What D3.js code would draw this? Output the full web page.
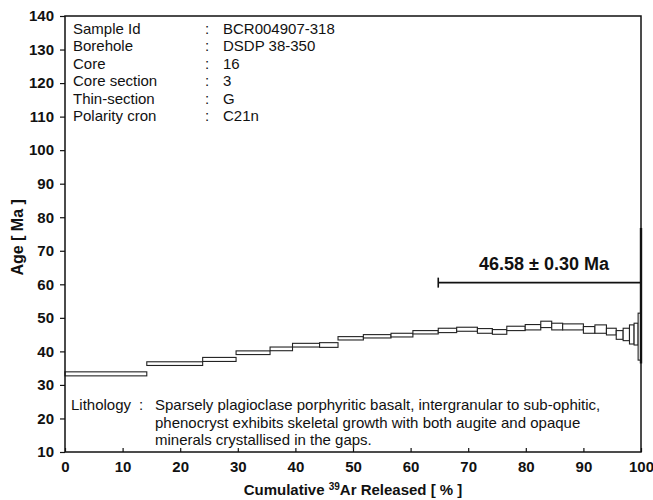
<!DOCTYPE html>
<html>
<head>
<meta charset="utf-8">
<script src="https://cdn.jsdelivr.net/npm/d3@7"></script>
<style>
  body { margin: 0; background: #fff; }
  svg text { font-family: "Liberation Sans", Arial, sans-serif; fill: #111; }
</style>
</head>
<body>
<div id="chart"></div>
<script>
// step spectrum: start of each step (cumulative % 39Ar), apparent age, 1 sigma
var stepStart = [0, 14.2, 23.9, 29.7, 35.6, 39.5, 44.2, 47.4, 51.8, 56.6, 60.4, 64.8, 68.0, 71.6,
  74.2, 76.7, 79.9, 82.6, 84.5, 86.4, 90.0, 92.0, 94.0, 95.7, 96.9, 98.0, 98.8, 99.5];
var stepAge = [33.3, 36.35, 37.6, 39.6, 40.75, 41.85, 41.9, 43.9, 44.5, 44.85, 45.7, 46.25, 46.6, 46.1,
  45.8, 46.85, 47.2, 48.05, 47.4, 47.3, 46.4, 46.65, 45.9, 44.9, 45.05, 45.05, 45.15, 44.4];
var stepErr = [0.6, 0.55, 0.6, 0.55, 0.55, 0.55, 0.7, 0.5, 0.5, 0.55, 0.5, 0.65, 0.6, 0.7,
  0.7, 0.65, 0.8, 0.95, 1.0, 0.9, 1.0, 1.25, 1.0, 1.3, 1.85, 2.85, 3.25, 7.0];

var xTicks = [0, 10, 20, 30, 40, 50, 60, 70, 80, 90, 100];
var yTicks = [10, 20, 30, 40, 50, 60, 70, 80, 90, 100, 110, 120, 130, 140];

var plateauFrom = 64.8, plateauTo = 100, plateauBarLevel = 60.5;
var plateauLabel = "46.58 ± 0.30 Ma";

var infoLabels = ["Sample Id", "Borehole", "Core", "Core section", "Thin-section", "Polarity cron"];
var infoValues = ["BCR004907-318", "DSDP 38-350", "16", "3", "G", "C21n"];
var lithology = [
  "Sparsely plagioclase porphyritic basalt, intergranular to sub-ophitic,",
  "phenocryst exhibits skeletal growth with both augite and opaque",
  "minerals crystallised in the gaps."
];

var width = 653, height = 500;
var margin = {top: 16, right: 12, bottom: 48, left: 65};

var svg = d3.select("#chart").append("svg")
    .attr("width", width)
    .attr("height", height);

var x = d3.scaleLinear().domain([0, 100]).range([margin.left, width - margin.right]);
var y = d3.scaleLinear().domain([10, 140]).range([height - margin.bottom, margin.top]);

// steps
var steps = stepStart.map(function(s, i) {
  return {x0: s, x1: i < stepStart.length - 1 ? stepStart[i + 1] : 100, age: stepAge[i], err: stepErr[i]};
});

svg.append("g").selectAll("rect")
    .data(steps)
  .enter().append("rect")
    .attr("x", function(d) { return x(d.x0); })
    .attr("width", function(d) { return x(d.x1) - x(d.x0); })
    .attr("y", function(d) { return y(d.age + d.err); })
    .attr("height", function(d) { return y(d.age - d.err) - y(d.age + d.err); })
    .attr("fill", "#fff")
    .attr("stroke", "#222")
    .attr("stroke-width", 1.1);

// frame
svg.append("rect")
    .attr("x", x(0)).attr("y", y(140))
    .attr("width", x(100) - x(0)).attr("height", y(10) - y(140))
    .attr("fill", "none").attr("stroke", "#111").attr("stroke-width", 1.5);

// axes
var yAxis = svg.append("g")
    .attr("transform", "translate(" + x(0) + ",0)")
    .call(d3.axisLeft(y).tickValues(yTicks).tickSize(5).tickPadding(6));
var xAxis = svg.append("g")
    .attr("transform", "translate(0," + y(10) + ")")
    .call(d3.axisBottom(x).tickValues(xTicks).tickSize(-4).tickPadding(9));
[xAxis, yAxis].forEach(function(a) {
  a.select(".domain").remove();
  a.selectAll("line").attr("stroke", "#111").attr("stroke-width", 1.2);
  a.selectAll("text").style("font-size", "15px").style("font-weight", "bold")
    .style("font-family", "Liberation Sans, Arial, sans-serif").attr("fill", "#111");
});

svg.append("text")
    .attr("transform", "translate(23," + (y(74)) + ")rotate(-90)")
    .attr("text-anchor", "middle")
    .style("font-size", "16px").style("font-weight", "bold")
    .text("Age [ Ma ]");

var xl = svg.append("text")
    .attr("x", (x(0) + x(100)) / 2)
    .attr("y", 495)
    .attr("text-anchor", "middle")
    .style("font-size", "15px").style("font-weight", "bold");
xl.append("tspan").text("Cumulative ");
xl.append("tspan").attr("dy", -5).style("font-size", "10px").text("39");
xl.append("tspan").attr("dy", 5).text("Ar Released [ % ]");

// plateau bar
var py = y(plateauBarLevel);
svg.append("line")
    .attr("x1", x(plateauFrom)).attr("x2", x(plateauTo))
    .attr("y1", py).attr("y2", py)
    .attr("stroke", "#111").attr("stroke-width", 1.6);
svg.append("line")
    .attr("x1", x(plateauFrom)).attr("x2", x(plateauFrom))
    .attr("y1", py - 5).attr("y2", py + 5)
    .attr("stroke", "#111").attr("stroke-width", 1.6);
svg.append("line")
    .attr("x1", x(plateauTo)).attr("x2", x(plateauTo))
    .attr("y1", y(76.8)).attr("y2", y(36.4))
    .attr("stroke", "#111").attr("stroke-width", 2.4);
svg.append("text")
    .attr("x", 544).attr("y", py - 13)
    .attr("text-anchor", "middle")
    .style("font-size", "18px").style("font-weight", "bold")
    .text(plateauLabel);

// info block
var info = svg.append("g").style("font-size", "15px");
infoLabels.forEach(function(l, i) {
  var ty = 34 + i * 17.4;
  info.append("text").attr("x", 73).attr("y", ty).text(l);
  info.append("text").attr("x", 205).attr("y", ty).text(":");
  info.append("text").attr("x", 223).attr("y", ty).text(infoValues[i]);
});

var lith = svg.append("g").style("font-size", "15px");
lith.append("text").attr("x", 71).attr("y", 410).text("Lithology");
lith.append("text").attr("x", 139).attr("y", 410).text(":");
lithology.forEach(function(t, i) {
  lith.append("text").attr("x", 155).attr("y", 410 + i * 17.6).text(t);
});
</script>
</body>
</html>
